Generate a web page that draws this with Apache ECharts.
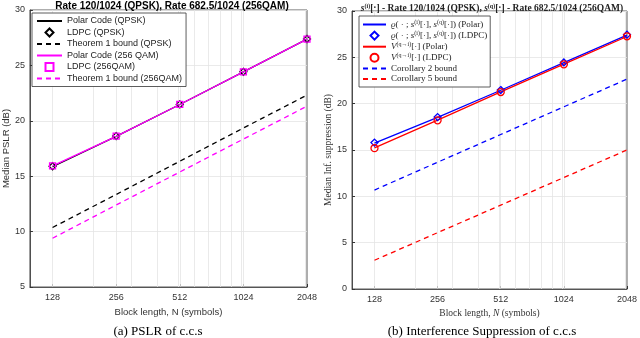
<!DOCTYPE html>
<html>
<head>
<meta charset="utf-8">
<script src="https://cdn.jsdelivr.net/npm/echarts@6/dist/echarts.min.js"></script>
<style>
  html, body { margin: 0; padding: 0; background: #fff; }
  #main { width: 640px; height: 338px; }
</style>
</head>
<body>
<div id="main"></div>
<script>
// block lengths (x), labelled ticks and the grid positions of the log axis
var blockLen = [128, 256, 512, 1024, 2048];
var gridLines = [128, 200, 256, 300, 400, 500, 512, 600, 700, 800, 900, 1000, 1024, 2000];

// (a) PSLR
var polarQpsk = [15.85, 18.6, 21.47, 24.42, 27.37];
var ldpcQpsk  = [15.9, 18.62, 21.48, 24.42, 27.38];
var thm1Qpsk  = [10.37, 13.35, 16.35, 19.35, 22.32];
var polar256  = [15.93, 18.6, 21.47, 24.42, 27.37];
var ldpc256   = [15.93, 18.62, 21.48, 24.42, 27.38];
var thm1Qam   = [9.4, 12.4, 15.38, 18.35, 21.32];

// (b) interference suppression
var gPolar = [15.75, 18.52, 21.45, 24.43, 27.4];
var gLdpc  = [15.8, 18.55, 21.47, 24.45, 27.45];
var vPolar = [15.22, 18.22, 21.27, 24.27, 27.25];
var vLdpc  = [15.2, 18.2, 21.25, 24.25, 27.27];
var cor2   = [10.68, 13.68, 16.67, 19.66, 22.65];
var cor5   = [3.1, 6.08, 9.05, 12.03, 15.0];

var pts = function(vals) {
    return blockLen.map(function(n, i) { return [Math.log2(n), vals[i]]; });
};

var chart = echarts.init(document.getElementById('main'));
var axisCol = '#333';
var sans = 'Liberation Sans';
var serif = 'Liberation Serif';
var tickPos = blockLen.map(function(n) { return Math.log2(n); });

var xAxisOf = function(idx, nameRich) {
    return {
        type: 'value', gridIndex: idx,
        min: Math.log2(100), max: 11,
        name: nameRich, nameLocation: 'middle', nameGap: 13,
        nameTextStyle: idx == 0 ? {fontFamily: sans, fontSize: 9.5, color: '#333'} : {
            fontFamily: serif, fontSize: 9.5, color: '#333',
            rich: {it: {fontFamily: serif, fontStyle: 'italic', fontSize: 9.5, color: '#333'}}
        },
        axisLine: {show: true, lineStyle: {color: axisCol, width: 0.8}},
        axisTick: {show: true, inside: true, length: 3, customValues: tickPos, lineStyle: {color: axisCol}},
        axisLabel: {
            fontFamily: sans, fontSize: 9, color: '#333', margin: 6,
            customValues: tickPos,
            formatter: function(v) { return String(Math.round(Math.pow(2, v))); }
        },
        splitLine: {show: false}
    };
};

var yAxisOf = function(idx, min, name, font) {
    return {
        type: 'value', gridIndex: idx, min: min, max: 30, interval: 5,
        name: name, nameLocation: 'middle', nameGap: idx == 0 ? 18 : 16,
        nameTextStyle: {fontFamily: font, fontSize: 9.5, color: '#333'},
        axisLine: {show: true, lineStyle: {color: axisCol, width: 0.8}},
        axisTick: {show: true, inside: true, length: 3, lineStyle: {color: axisCol}},
        axisLabel: {fontFamily: sans, fontSize: 9, color: '#333', margin: 5},
        splitLine: {show: true, lineStyle: {color: '#e4e4e4', width: 0.8}}
    };
};

// hidden carrier series for the vertical log-grid lines
var gridSeries = function(idx, vals) {
    return {
        type: 'line', xAxisIndex: idx, yAxisIndex: idx, data: pts(vals), silent: true, z: 1,
        symbol: 'none', lineStyle: {opacity: 0}, itemStyle: {opacity: 0},
        markLine: {
            silent: true, symbol: 'none', label: {show: false}, animation: false, z: 1,
            lineStyle: {color: '#e4e4e4', type: 'solid', width: 0.8},
            data: gridLines.map(function(n) { return {xAxis: Math.log2(n)}; })
        }
    };
};

var lineS = function(name, idx, vals, color, dashed) {
    return {
        name: name, type: 'line', xAxisIndex: idx, yAxisIndex: idx, data: pts(vals),
        symbol: 'none', z: 3,
        lineStyle: {color: color, width: 1.3, type: dashed ? [5, 4] : 'solid'},
        itemStyle: {color: color, opacity: 0}
    };
};

var markS = function(name, idx, vals, color, sym, size) {
    return {
        name: name, type: 'line', xAxisIndex: idx, yAxisIndex: idx, data: pts(vals),
        symbol: sym, symbolSize: size, showSymbol: true, z: 4,
        lineStyle: {color: color, opacity: 0},
        itemStyle: {color: 'transparent', borderColor: color, borderWidth: 1.3}
    };
};

var supRich = {
    sup: {fontFamily: serif, fontSize: 6, color: '#222', padding: [0, 0, 5, 0]},
    it: {fontFamily: serif, fontStyle: 'italic', fontSize: 9, color: '#222'},
    t: {fontFamily: serif, fontSize: 9, color: '#222'}
};

var rightNames = {
    gPolar: '{it|ϱ}{t|( · ; }{it|s}{sup|(i)}{t|[·], }{it|s}{sup|(q)}{t|[·]) (Polar)}',
    gLdpc: '{it|ϱ}{t|( · ; }{it|s}{sup|(i)}{t|[·], }{it|s}{sup|(q)}{t|[·]) (LDPC)}',
    vPolar: '{it|V}{sup|(q→i)}{t|[·] (Polar)}',
    vLdpc: '{it|V}{sup|(q→i)}{t|[·] (LDPC)}',
    cor2: '{t|Corollary 2 bound}',
    cor5: '{t|Corollary 5 bound}'
};

var option = {
    animation: false,
    title: [
        {
            text: 'Rate 120/1024 (QPSK), Rate 682.5/1024 (256QAM)',
            left: 167, top: -4, textAlign: 'center',
            textStyle: {fontFamily: sans, fontSize: 10, fontWeight: 'bold', color: '#000'}
        },
        {
            text: '{it|s}{sup|(i)}{t|[·] - Rate 120/1024 (QPSK), }{it|s}{sup|(q)}{t|[·] - Rate 682.5/1024 (256QAM)}',
            left: 487, top: -2, textAlign: 'center',
            textStyle: {
                rich: {
                    sup: {fontFamily: serif, fontSize: 6, color: '#222', padding: [0, 0, 5, 0]},
                    it: {fontFamily: serif, fontStyle: 'italic', fontSize: 9.5, color: '#222'},
                    t: {fontFamily: serif, fontSize: 9.5, color: '#222'}
                }
            }
        }
    ],
    grid: [
        {left: 29, right: 333, top: 10, bottom: 51, show: true, borderColor: axisCol, borderWidth: 0.8},
        {left: 352, right: 8, top: 11, bottom: 49, show: true, borderColor: axisCol, borderWidth: 0.8}
    ],
    legend: [
        {
            orient: 'vertical', left: 32, top: 13,
            data: ['Polar Code (QPSK)', 'LDPC (QPSK)', 'Theorem 1 bound (QPSK)',
                   'Polar Code (256 QAM)', 'LDPC (256QAM)', 'Theorem 1 bound (256QAM)'],
            backgroundColor: '#fff', borderColor: '#333', borderWidth: 0.8,
            padding: [3, 4, 3, 4], itemWidth: 25, itemHeight: 10, itemGap: 1.5,
            textStyle: {fontFamily: sans, fontSize: 9, color: '#222', lineHeight: 10}
        },
        {
            orient: 'vertical', left: 359, top: 16,
            data: ['gPolar', 'gLdpc', 'vPolar', 'vLdpc', 'cor2', 'cor5'],
            formatter: function(n) { return rightNames[n]; },
            backgroundColor: '#fff', borderColor: '#333', borderWidth: 0.8,
            padding: [3, 3, 3, 3], itemWidth: 23, itemHeight: 10, itemGap: 0.6,
            textStyle: {lineHeight: 10, rich: supRich}
        }
    ],
    xAxis: [
        xAxisOf(0, 'Block length, N (symbols)'),
        xAxisOf(1, 'Block length, {it|N} (symbols)')
    ],
    yAxis: [
        yAxisOf(0, 5, 'Median PSLR (dB)', sans),
        yAxisOf(1, 0, 'Median Inf. suppression (dB)', serif)
    ],
    graphic: [
        {type: 'text', x: 158, y: 332, style: {text: '(a) PSLR of c.c.s', font: '13px "Liberation Serif"', fill: '#000', align: 'center', verticalAlign: 'middle'}},
        {type: 'text', x: 482, y: 332, style: {text: '(b) Interference Suppression of c.c.s', font: '13px "Liberation Serif"', fill: '#000', align: 'center', verticalAlign: 'middle'}}
    ],
    series: [
        gridSeries(0, thm1Qpsk),
        gridSeries(1, cor2),
        lineS('Polar Code (QPSK)', 0, polarQpsk, '#000', false),
        markS('LDPC (QPSK)', 0, ldpcQpsk, '#000', 'diamond', 7),
        lineS('Theorem 1 bound (QPSK)', 0, thm1Qpsk, '#000', true),
        lineS('Polar Code (256 QAM)', 0, polar256, '#ff00ff', false),
        markS('LDPC (256QAM)', 0, ldpc256, '#ff00ff', 'rect', 6),
        lineS('Theorem 1 bound (256QAM)', 0, thm1Qam, '#ff00ff', true),
        lineS('gPolar', 1, gPolar, '#0000ff', false),
        markS('gLdpc', 1, gLdpc, '#0000ff', 'diamond', 7),
        lineS('vPolar', 1, vPolar, '#ff0000', false),
        markS('vLdpc', 1, vLdpc, '#ff0000', 'circle', 7),
        lineS('cor2', 1, cor2, '#0000ff', true),
        lineS('cor5', 1, cor5, '#ff0000', true)
    ]
};
chart.setOption(option);
</script>
</body>
</html>
